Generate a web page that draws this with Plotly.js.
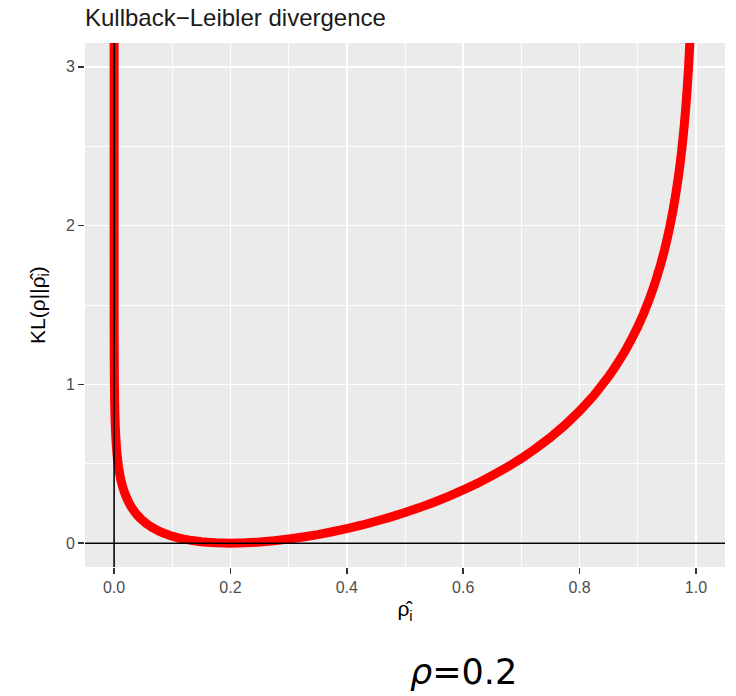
<!DOCTYPE html>
<html>
<head>
<meta charset="utf-8">
<script src="https://cdn.plot.ly/plotly-3.0.1.min.js"></script>
<style>html,body{margin:0;padding:0;background:#fff;}#chart{width:736px;height:696px;}</style>
</head>
<body>
<div id="chart"></div>
<script>
// rho-hat values (x) and KL divergence values (y), rho = 0.2
const rhoHat = [1e-9, 1e-7, 1e-6, 1e-5, 1e-4, 0.0002, 0.0003, 0.0005, 0.001, 0.0015, 0.002, 0.003, 0.004, 0.005, 0.006, 0.0075, 0.0085, 0.01, 0.011, 0.0125, 0.015, 0.0175, 0.02, 0.025, 0.03, 0.035, 0.04, 0.045, 0.05, 0.055, 0.06, 0.065, 0.07, 0.075, 0.08, 0.085, 0.09, 0.095, 0.1, 0.11, 0.12, 0.13, 0.14, 0.15, 0.16, 0.175, 0.2, 0.225, 0.25, 0.275, 0.3, 0.325, 0.35, 0.375, 0.4, 0.425, 0.45, 0.475, 0.5, 0.525, 0.55, 0.575, 0.6, 0.625, 0.65, 0.675, 0.7, 0.725, 0.75, 0.775, 0.8, 0.825, 0.85, 0.86, 0.87, 0.88, 0.89, 0.9, 0.91, 0.92, 0.93, 0.94, 0.945, 0.95, 0.955, 0.96, 0.965, 0.97, 0.9725, 0.975, 0.9775, 0.98, 0.9825, 0.985, 0.9875, 0.99, 0.9925];
const klValues = [3.644, 2.723, 2.263, 1.802, 1.342, 1.203, 1.122, 1.020, 0.882, 0.801, 0.744, 0.664, 0.607, 0.563, 0.528, 0.484, 0.460, 0.429, 0.410, 0.386, 0.352, 0.323, 0.299, 0.258, 0.225, 0.199, 0.176, 0.157, 0.140, 0.125, 0.112, 0.100, 0.090, 0.080, 0.071, 0.064, 0.057, 0.050, 0.044, 0.034, 0.026, 0.019, 0.014, 0.009, 0.006, 0.002, 0.000, 0.002, 0.007, 0.015, 0.026, 0.039, 0.054, 0.072, 0.092, 0.113, 0.138, 0.164, 0.193, 0.224, 0.258, 0.295, 0.335, 0.378, 0.426, 0.477, 0.534, 0.597, 0.666, 0.744, 0.832, 0.932, 1.050, 1.103, 1.160, 1.221, 1.289, 1.363, 1.445, 1.537, 1.642, 1.763, 1.831, 1.907, 1.990, 2.083, 2.189, 2.311, 2.380, 2.456, 2.540, 2.633, 2.740, 2.862, 3.008, 3.186, 3.415];
const xTicks = [0, 0.2, 0.4, 0.6, 0.8, 1.0];
const xTickLabels = ["0.0", "0.2", "0.4", "0.6", "0.8", "1.0"];
const yTicks = [0, 1, 2, 3];
const yTickLabels = ["0", "1", "2", "3"];
const vlineX = 0;
const hlineY = 0;
const rhoLabel = "=0.2";

const font = "Liberation Sans, Arial, sans-serif";

const traces = [{
  x: rhoHat, y: klValues, type: "scatter", mode: "lines",
  line: {color: "#FF0000", width: 9, simplify: false, shape: "linear"},
  hoverinfo: "skip", showlegend: false
}];

const layout = {
  width: 736, height: 696,
  margin: {l: 85, r: 11, t: 43, b: 129},
  paper_bgcolor: "#FFFFFF", plot_bgcolor: "#EBEBEB",
  showlegend: false,
  font: {family: font, color: "#000"},
  title: {
    text: "Kullback\u2212Leibler divergence",
    font: {family: font, size: 24, color: "#1A1A1A"},
    xref: "paper", x: 0, xanchor: "left",
    yref: "container", y: 0.974, yanchor: "middle"
  },
  xaxis: {
    range: [-0.05, 1.05], tickmode: "array", tickvals: xTicks, ticktext: xTickLabels,
    showgrid: true, gridcolor: "#FFFFFF", gridwidth: 1.6,
    minor: {dtick: 0.1, tick0: 0, showgrid: true, gridcolor: "#FFFFFF", gridwidth: 0.9, ticks: ""},
    zeroline: false, showline: false,
    ticks: "outside", ticklen: 6, tickwidth: 1.5, tickcolor: "#333333",
    tickfont: {family: font, size: 16, color: "#4D4D4D"},
    title: {text: "\u03C1\u0302<sub>i</sub>", font: {family: font, size: 21, color: "#000"}, standoff: 6},
    fixedrange: true
  },
  yaxis: {
    range: [-0.15, 3.15], tickmode: "array", tickvals: yTicks, ticktext: yTickLabels,
    showgrid: true, gridcolor: "#FFFFFF", gridwidth: 1.6,
    minor: {dtick: 0.5, tick0: 0, showgrid: true, gridcolor: "#FFFFFF", gridwidth: 0.9, ticks: ""},
    zeroline: false, showline: false,
    ticks: "outside", ticklen: 6, tickwidth: 1.5, tickcolor: "#333333",
    tickfont: {family: font, size: 16, color: "#4D4D4D"},
    title: {text: "KL(\u03C1||\u03C1\u0302<sub>i</sub>)", font: {family: font, size: 21, color: "#000"}, standoff: 14},
    fixedrange: true
  },
  shapes: [
    {type: "line", layer: "above", xref: "x", yref: "paper", x0: vlineX, x1: vlineX, y0: 0, y1: 1, line: {color: "#000", width: 1.6}},
    {type: "line", layer: "above", xref: "paper", yref: "y", x0: 0, x1: 1, y0: hlineY, y1: hlineY, line: {color: "#000", width: 1.6}}
  ],
  annotations: [{
    xref: "paper", yref: "paper", x: 0.592, y: -0.2, xanchor: "center", yanchor: "middle",
    showarrow: false,
    text: "<i>\u03C1</i>" + rhoLabel,
    font: {family: "DejaVu Sans, Verdana, sans-serif", size: 35, color: "#000"}
  }]
};

Plotly.newPlot("chart", traces, layout, {displayModeBar: false, staticPlot: true});
</script>
</body>
</html>
